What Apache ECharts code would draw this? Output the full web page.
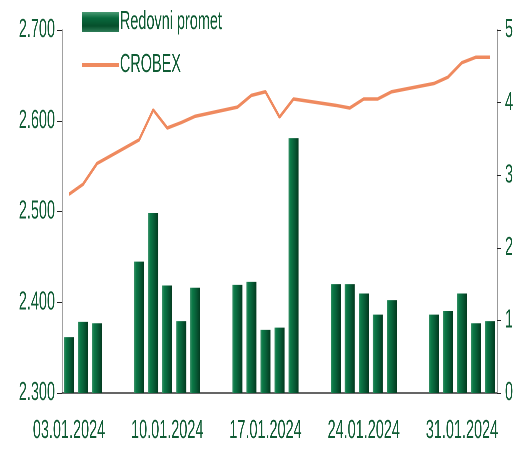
<!DOCTYPE html>
<html>
<head>
<meta charset="utf-8">
<script src="https://cdn.jsdelivr.net/npm/echarts@6/dist/echarts.min.js"></script>
<style>
html,body{margin:0;padding:0;background:#fff;overflow:hidden;width:519px;height:470px;}
#c{width:934px;height:470px;transform:scaleX(0.5557);transform-origin:0 0;}
</style>
</head>
<body>
<div id="c"></div>
<script>
const days = ['03.01.2024','04.01.2024','05.01.2024','06.01.2024','07.01.2024','08.01.2024','09.01.2024','10.01.2024','11.01.2024','12.01.2024','13.01.2024','14.01.2024','15.01.2024','16.01.2024','17.01.2024','18.01.2024','19.01.2024','20.01.2024','21.01.2024','22.01.2024','23.01.2024','24.01.2024','25.01.2024','26.01.2024','27.01.2024','28.01.2024','29.01.2024','30.01.2024','31.01.2024','01.02.2024','02.02.2024'];
const redovniPromet = [0.77,0.98,0.96,null,null,1.81,2.48,1.48,0.99,1.45,null,null,1.49,1.53,0.87,0.90,3.51,null,null,1.50,1.50,1.37,1.08,1.28,null,null,1.08,1.13,1.37,0.96,0.99];
const crobex = [2519,2530,2553,null,null,2579,2612,2592,2598,2605,null,null,2615,2628,2632,2604,2624,null,null,2617,2614,2624,2624,2632,null,null,2641,2648,2664,2670,2670];
const leftTicks = {min:2300,max:2700,interval:100};
const rightTicks = {min:0,max:5,interval:1};

// horizontal layout factor: the chart is drawn wide and squeezed to mimic the condensed typeface
const K = 934/519;
const FONT = "'Liberation Sans',Arial,sans-serif";
const TXT = '#0f5c34';
const barColor = new echarts.graphic.LinearGradient(0,0,1,0,[
  {offset:0,color:'#3a9068'},
  {offset:0.2,color:'#0c7a47'},
  {offset:0.55,color:'#085f38'},
  {offset:1,color:'#033a1f'}
]);
const legendBar = new echarts.graphic.LinearGradient(0,0,0,1,[
  {offset:0,color:'#4a9a74'},
  {offset:0.3,color:'#0a6a3e'},
  {offset:0.7,color:'#06502c'},
  {offset:1,color:'#2e7d58'}
]);
const fmt = v => { const s = String(Math.round(v)); return s.length>3 ? s.slice(0,s.length-3)+'.'+s.slice(-3) : s; };

const chart = echarts.init(document.getElementById('c'), null, {renderer:'canvas',devicePixelRatio:2});
chart.setOption({
  animation:false,
  backgroundColor:'#fff',
  grid:{left:62*K,right:22*K,top:30,bottom:77,containLabel:false},
  legend:{
    orient:'vertical',left:79*K,top:4,itemWidth:37*K,itemHeight:20,itemGap:17,
    textStyle:{fontFamily:FONT,fontSize:26,color:TXT,padding:[0,0,0,-3]},
    data:[
      {name:'Redovni promet',icon:'rect',itemStyle:{color:legendBar}},
      {name:'CROBEX',icon:'path://M0,0H100V6H0Z',itemStyle:{color:'#ef8a5f'}}
    ]
  },
  xAxis:{
    type:'category',data:days,boundaryGap:true,
    axisLine:{lineStyle:{color:'#333',width:1.5}},
    axisTick:{interval:6,length:8,lineStyle:{color:'#777',width:K}},
    axisLabel:{interval:6,margin:25,fontFamily:FONT,fontSize:26,color:TXT}
  },
  yAxis:[
    {type:'value',position:'left',min:leftTicks.min,max:leftTicks.max,interval:leftTicks.interval,
     splitLine:{show:false},
     axisLine:{show:true,lineStyle:{color:'#999',width:K}},
     axisTick:{show:true,length:5*K,lineStyle:{color:'#222'}},
     axisLabel:{formatter:fmt,margin:7*K,fontFamily:FONT,fontSize:26,color:TXT}},
    {type:'value',position:'right',min:rightTicks.min,max:rightTicks.max,interval:rightTicks.interval,
     splitLine:{show:false},
     axisLine:{show:true,lineStyle:{color:'#999',width:K}},
     axisTick:{show:true,length:4*K,lineStyle:{color:'#222'}},
     axisLabel:{margin:8*K,fontFamily:FONT,fontSize:26,color:TXT}}
  ],
  series:[
    {name:'Redovni promet',type:'bar',yAxisIndex:1,data:redovniPromet,barWidth:10*K,
     itemStyle:{color:barColor}},
    {name:'CROBEX',type:'line',yAxisIndex:0,data:crobex,connectNulls:true,symbol:'none',
     lineStyle:{color:'#ef8a5f',width:3.5},itemStyle:{color:'#ef8a5f'},z:3}
  ]
});
</script>
</body>
</html>
